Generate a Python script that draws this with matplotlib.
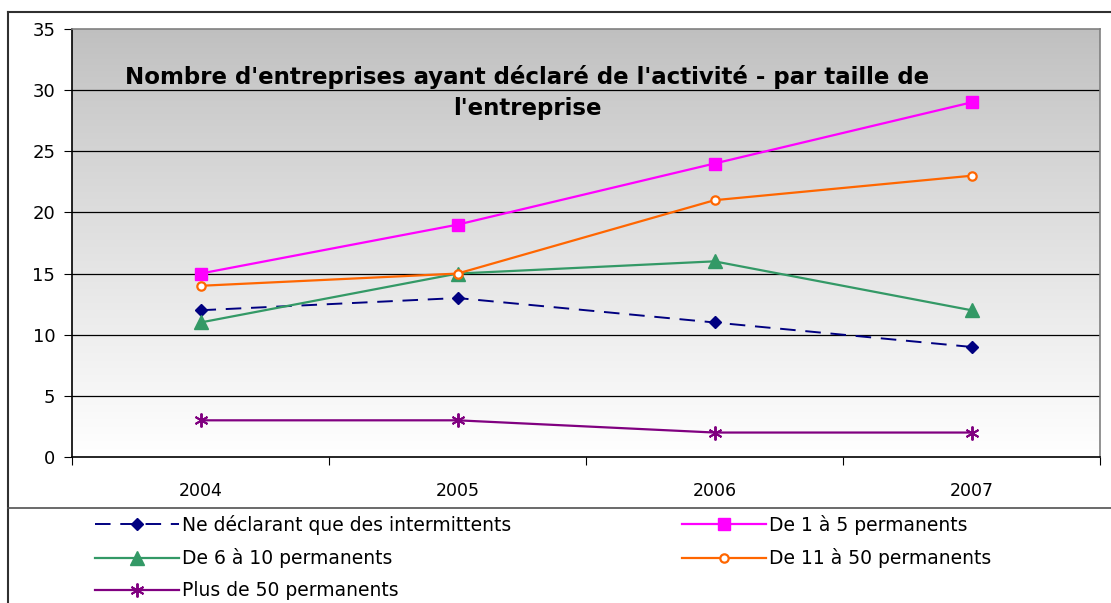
import matplotlib
matplotlib.use("Agg")
import matplotlib.pyplot as plt
import numpy as np
from matplotlib.lines import Line2D

years = ["2004", "2005", "2006", "2007"]
intermittents = [12, 13, 11, 9]
de_1_5 = [15, 19, 24, 29]
de_6_10 = [11, 15, 16, 12]
de_11_50 = [14, 15, 21, 23]
plus_50 = [3, 3, 2, 2]

labels = ["Ne déclarant que des intermittents", "De 1 à 5 permanents",
          "De 6 à 10 permanents", "De 11 à 50 permanents", "Plus de 50 permanents"]
title = "Nombre d'entreprises ayant déclaré de l'activité - par taille de\nl'entreprise"

W, H = 1111, 603
fig = plt.figure(figsize=(W / 100, H / 100), dpi=100)
fig.patch.set_facecolor("white")

x0, x1, y0, y1 = 72, 1100, 29, 457
ax = fig.add_axes([x0 / W, 1 - y1 / H, (x1 - x0) / W, (y1 - y0) / H])

x = np.arange(len(years)) + 0.5
ax.set_xlim(0, len(years))
ax.set_ylim(0, 35)

# gradient background
grad = np.linspace(0, 1, 256).reshape(-1, 1)
top = np.array([0.75, 0.75, 0.75])
bot = np.array([1.0, 1.0, 1.0])
img = top + (bot - top) * grad[..., None] ** 0.9
img = img.reshape(256, 1, 3)
ax.imshow(img, extent=[0, 1, 0, 1], transform=ax.transAxes, aspect="auto", zorder=0)

ax.set_yticks(np.arange(0, 36, 5))
for v in np.arange(5, 35, 5):
    ax.axhline(v, color="black", lw=0.9, zorder=1)

ax.plot(x, intermittents, color="#000080", ls=(0, (8, 5)), lw=1.4, marker="D", ms=6.5,
        label=labels[0], zorder=3)
ax.plot(x, de_1_5, color="#FF00FF", lw=1.6, marker="s", ms=8, label=labels[1], zorder=3)
ax.plot(x, de_6_10, color="#339966", lw=1.6, marker="^", ms=9.5, label=labels[2], zorder=3)
ax.plot(x, de_11_50, color="#FF6600", lw=1.6, marker="o", ms=6, mfc="white", mew=1.6,
        label=labels[3], zorder=3)
ax.plot(x, plus_50, color="#800080", lw=1.6, marker=(6, 2, 0), ms=10, mew=1.4,
        label=labels[4], zorder=3)

ax.set_xticks(np.arange(0, len(years) + 1))
ax.set_xticklabels([])
ax.set_xticks(x, minor=True)
ax.set_xticklabels(years, minor=True, fontsize=12.5)
ax.tick_params(axis="x", which="minor", length=0, pad=18)
ax.tick_params(axis="x", which="major", length=6, direction="out", color="black")
ax.tick_params(axis="y", length=6, direction="out", labelsize=13, pad=6)

for s in ["left", "bottom"]:
    ax.spines[s].set_color("black")
    ax.spines[s].set_linewidth(1.2)
for s in ["top", "right"]:
    ax.spines[s].set_color("#808080")
    ax.spines[s].set_linewidth(1.2)

ax.text(0.443, 0.852, title, transform=ax.transAxes, ha="center", va="center",
        fontsize=16.5, fontweight="bold", linespacing=1.45, zorder=4)

# outer frame lines
fig.add_artist(Line2D([8 / W, 1.0], [1 - 12 / H, 1 - 12 / H], color="#303030", lw=1.5))
fig.add_artist(Line2D([8 / W, 8 / W], [0, 1 - 12 / H], color="#303030", lw=1.5))
fig.add_artist(Line2D([8 / W, 1.0], [1 - 508 / H, 1 - 508 / H], color="#505050", lw=1.2))

handles, labs = ax.get_legend_handles_labels()
order = [0, 2, 4, 1, 3]
leg = fig.legend([handles[i] for i in order], [labs[i] for i in order], ncol=2,
                 loc="upper left", bbox_to_anchor=(95 / W, 1 - 515 / H),
                 frameon=False, fontsize=13.5, handlelength=4.5, handletextpad=0.15,
                 labelspacing=0.7, columnspacing=9.1, borderaxespad=0, borderpad=0)

fig.savefig("out.png", dpi=100)
